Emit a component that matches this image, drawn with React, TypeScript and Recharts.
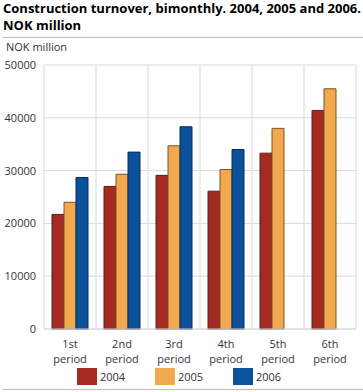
import { BarChart, Bar, XAxis, YAxis, CartesianGrid } from 'recharts'

const periods = ['1st period', '2nd period', '3rd period', '4th period', '5th period', '6th period']
const values2004 = [21700, 27000, 29100, 26100, 33300, 41400]
const values2005 = [24000, 29300, 34700, 30200, 38000, 45500]
const values2006 = [28700, 33500, 38300, 34000, null, null]
const yTicks = [0, 10000, 20000, 30000, 40000, 50000]

const series = [
  { key: 'y2004', label: '2004', fill: '#a52a23', stroke: '#5e1f14' },
  { key: 'y2005', label: '2005', fill: '#f2a94e', stroke: '#7a5426' },
  { key: 'y2006', label: '2006', fill: '#0b529c', stroke: '#0a2a55' },
]

const data = periods.map((name, i) => ({
  name,
  y2004: values2004[i],
  y2005: values2005[i],
  y2006: values2006[i],
}))

const FONT = '"Open Sans", sans-serif'

function PeriodTick({ x, y, payload }: any) {
  const [first, second] = String(payload.value).split(' ')
  return (
    <text x={x} y={y} textAnchor="middle" fill="#333" fontSize={11} fontFamily={FONT}>
      <tspan x={x} dy={11}>{first}</tspan>
      <tspan x={x} dy={15}>{second}</tspan>
    </text>
  )
}

export default function App() {
  return (
    <div style={{ position: 'absolute', left: 0, top: 0, width: 363, height: 392, background: '#fff', fontFamily: FONT }}>
      <style>{'body{margin:0}'}</style>
      <div style={{ position: 'absolute', left: 3, top: 0, fontSize: 13, fontWeight: 700, lineHeight: '16px', color: '#000', whiteSpace: 'nowrap' }}>
        Construction turnover, bimonthly. 2004, 2005 and 2006.
      </div>
      <div style={{ position: 'absolute', left: 3, top: 17, fontSize: 13, fontWeight: 700, lineHeight: '16px', color: '#000', whiteSpace: 'nowrap' }}>
        NOK million
      </div>
      <div style={{ position: 'absolute', left: 3, right: 0, top: 37, height: 1, background: '#bdbdbd' }} />
      <div style={{ position: 'absolute', left: 6, top: 39, fontSize: 11, color: '#333' }}>NOK million</div>

      <div style={{ position: 'absolute', left: 0, top: 0 }}>
        <BarChart
          width={363}
          height={392}
          data={data}
          margin={{ top: 65, right: 7, left: 0, bottom: 33 }}
          barCategoryGap={8}
          barGap={0}
        >
          <CartesianGrid
            stroke="#d9d9de"
            verticalCoordinatesGenerator={({ offset }: any) =>
              periods.map((_, i) => offset.left + (i * offset.width) / periods.length).concat(offset.left + offset.width)
            }
          />
          <XAxis
            dataKey="name"
            axisLine={{ stroke: '#d9d9de' }}
            tickLine={false}
            interval={0}
            height={30}
            tick={<PeriodTick />}
          />
          <YAxis
            width={44}
            domain={[0, 50000]}
            ticks={yTicks}
            axisLine={false}
            tickLine={false}
            tick={{ fill: '#333', fontSize: 11, fontFamily: FONT }}
            tickMargin={2}
          />
          {series.map((s) => (
            <Bar key={s.key} dataKey={s.key} fill={s.fill} stroke={s.stroke} strokeWidth={1} isAnimationActive={false} />
          ))}
        </BarChart>
      </div>

      <div style={{ position: 'absolute', left: 77, top: 368, display: 'flex', gap: 0 }}>
        {series.map((s) => (
          <div key={s.key} style={{ display: 'flex', alignItems: 'center', width: 78 }}>
            <div style={{ width: 20, height: 17, background: s.fill, marginRight: 3 }} />
            <span style={{ fontSize: 11, color: '#333' }}>{s.label}</span>
          </div>
        ))}
      </div>
      <div style={{ position: 'absolute', left: 3, right: 0, top: 389, height: 1, background: '#bdbdbd' }} />
    </div>
  )
}
